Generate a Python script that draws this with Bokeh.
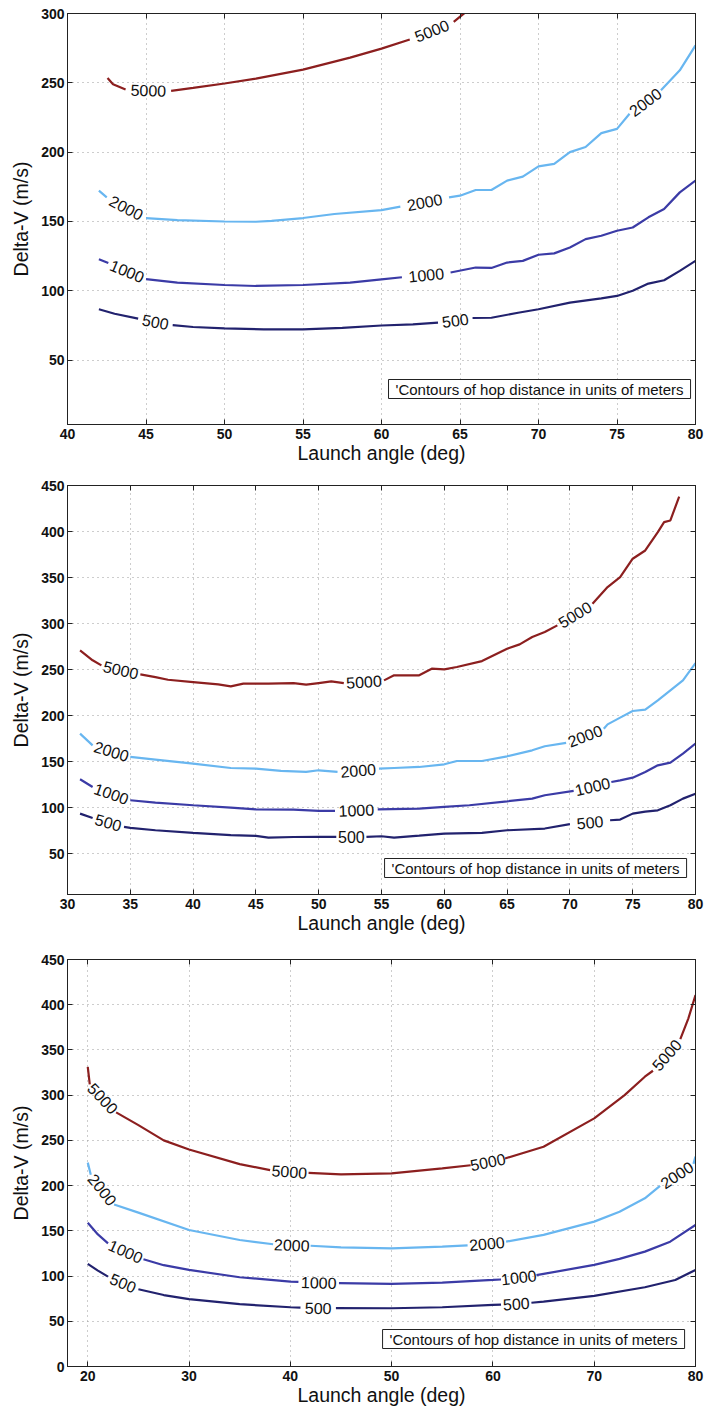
import math
from bokeh.plotting import figure
from bokeh.layouts import column
from bokeh.models import FixedTicker, LinearAxis, Label, Range1d, ColumnDataSource
from bokeh.core.properties import value
from bokeh.embed import file_html
from bokeh.resources import INLINE

nan = float("nan")

LEVELS = [500, 1000, 2000, 5000]
LEVEL_COLORS = ["#22226e", "#3b3ba6", "#68b6f0", "#8c1f1f"]

X_LABEL = "Launch angle (deg)"
Y_LABEL = "Delta-V (m/s)"
NOTE = "'Contours of hop distance in units of meters"

# ---------------- Panel 1 ----------------
P1_X_TICKS = [40, 45, 50, 55, 60, 65, 70, 75, 80]
P1_Y_TICKS = [50, 100, 150, 200, 250, 300]

P1_X_500 = [42.0, 43.0, 44.5, nan, 46.7, 48.0, 50.0, 52.5, 55.0, 57.5, 60.0, 62.0, 63.6, nan,
            65.8, 67.0, 68.7, 70.0, 72.0, 74.0, 75.0, 76.0, 77.0, 78.0, 79.0, 80.0]
P1_DV_500 = [86.7, 83.5, 80.0, nan, 75.3, 73.9, 72.9, 72.2, 72.2, 73.3, 75.0, 75.8, 77.0, nan,
             80.4, 80.6, 84.2, 86.7, 91.5, 94.6, 96.3, 100.0, 105.2, 107.6, 114.4, 121.6]

P1_X_1000 = [42.0, 42.6, nan, 45.0, 47.0, 50.0, 52.0, 55.0, 58.0, 60.0, 61.3, nan, 64.4, 66.0, 67.0,
             68.0, 69.0, 70.0, 71.0, 72.0, 73.0, 74.0, 75.0, 76.0, 77.0, 78.0, 79.0, 80.0]
P1_DV_1000 = [122.8, 120.0, nan, 108.5, 105.9, 104.2, 103.5, 104.2, 105.9, 108.3, 109.8, nan, 113.2,
              116.8, 116.5, 120.4, 121.6, 126.0, 127.0, 131.2, 137.3, 139.7, 143.3, 145.7, 153.0,
              159.0, 171.0, 179.5]

P1_X_2000 = [42.0, 42.5, nan, 45.0, 47.0, 50.0, 52.0, 53.0, 55.0, 57.0, 60.0, 61.2, nan, 64.3, 65.0,
             66.0, 67.0, 68.0, 69.0, 70.0, 71.0, 72.0, 73.0, 74.0, 75.0, 75.8, nan, 77.8, 79.0, 80.0]
P1_DV_2000 = [172.2, 167.4, nan, 152.5, 151.0, 150.0, 149.8, 150.5, 152.5, 155.4, 158.2, 160.7, nan,
              167.4, 168.6, 172.7, 172.7, 179.5, 182.4, 189.8, 191.5, 200.0, 203.7, 213.7, 216.8,
              227.7, nan, 244.6, 259.0, 277.0]

P1_X_5000 = [42.55, 42.9, 43.7, nan, 46.6, 48.0, 50.0, 52.0, 55.0, 58.0, 60.0, 61.8, nan, 64.6, 65.3]
P1_DV_5000 = [253.5, 249.0, 245.2, nan, 244.2, 246.3, 249.5, 253.0, 259.5, 268.2, 274.7, 281.2, nan,
              294.0, 300.5]

# ---------------- Panel 2 ----------------
P2_X_TICKS = [30, 35, 40, 45, 50, 55, 60, 65, 70, 75, 80]
P2_Y_TICKS = [50, 100, 150, 200, 250, 300, 350, 400, 450]

P2_X_500 = [31.0, 32.0, nan, 34.5, 35.0, 37.0, 40.0, 43.0, 45.0, 46.0, 48.0, 50.0, 51.4, nan, 53.8,
            55.0, 56.0, 58.0, 60.0, 63.0, 65.0, 68.0, 70.0, nan, 73.2, 74.0, 75.0, 76.0, 77.0, 78.0,
            79.0, 80.0]
P2_DV_500 = [93.4, 88.7, nan, 79.0, 77.9, 75.3, 72.4, 70.0, 69.2, 67.4, 68.0, 68.1, 68.1, nan, 68.1,
             68.8, 67.4, 69.5, 71.7, 72.4, 75.3, 77.2, 81.9, nan, 86.2, 86.9, 93.4, 95.5, 97.0,
             102.5, 109.7, 115.0]

P2_X_1000 = [31.0, 32.0, nan, 35.0, 37.0, 40.0, 43.0, 45.0, 48.0, 50.0, 51.3, nan, 54.7, 58.0, 60.0,
             62.0, 65.0, 67.0, 68.0, 70.3, nan, 73.3, 74.0, 75.0, 76.0, 77.0, 78.0, 79.0, 80.0]
P2_DV_1000 = [130.7, 122.4, nan, 107.9, 105.4, 102.5, 99.9, 98.1, 97.8, 96.3, 96.3, nan, 98.1, 98.9,
              100.7, 102.5, 106.8, 109.7, 113.4, 118.1, nan, 127.8, 129.6, 132.5, 138.7, 145.9,
              148.8, 158.6, 169.5]

P2_X_2000 = [31.0, 32.0, nan, 35.0, 37.0, 40.0, 43.0, 45.0, 47.0, 49.0, 50.0, 51.5, nan, 54.8, 56.0,
             58.0, 60.0, 61.0, 63.0, 65.0, 67.0, 68.0, 69.7, nan, 72.7, 73.0, 74.0, 75.0, 76.0, 77.0,
             78.0, 79.0, 80.0]
P2_DV_2000 = [180.3, 167.6, nan, 155.0, 152.1, 147.7, 143.0, 142.3, 139.8, 138.7, 140.5, 138.7, nan,
              142.3, 143.0, 144.1, 147.0, 150.6, 150.6, 155.7, 162.2, 166.6, 170.2, nan, 185.7,
              190.4, 197.7, 204.9, 206.4, 216.5, 227.4, 238.2, 257.0]

P2_X_5000 = [31.0, 32.0, 32.7, nan, 35.8, 37.0, 38.0, 40.0, 42.0, 43.0, 44.0, 46.0, 48.0, 49.0, 50.0,
             51.0, 52.0, nan, 55.2, 56.0, 58.0, 59.0, 60.0, 61.0, 63.0, 65.0, 66.0, 67.0, 68.0, 69.0,
             nan, 71.8, 73.0, 74.0, 75.0, 76.0, 77.0, 77.5, 78.0, 78.7]
P2_DV_5000 = [270.8, 260.0, 254.5, nan, 244.7, 241.8, 238.9, 236.4, 233.9, 231.7, 234.6, 234.6,
              235.3, 233.5, 235.3, 237.1, 235.3, nan, 238.2, 243.7, 243.7, 250.9, 250.2, 252.7,
              259.2, 272.6, 277.3, 285.3, 290.7, 298.0, nan, 321.5, 339.6, 350.5, 370.4, 379.4,
              399.3, 410.2, 412.0, 438.0]

# ---------------- Panel 3 ----------------
P3_X_TICKS = [20, 30, 40, 50, 60, 70, 80]
P3_Y_TICKS = [0, 50, 100, 150, 200, 250, 300, 350, 400, 450]

P3_X_500 = [20.0, 21.0, 22.0, nan, 25.0, 27.5, 30.0, 35.0, 40.0, 41.0, nan, 44.5, 50.0, 55.0, 60.0,
            60.8, nan, 63.8, 65.0, 70.0, 75.0, 78.0, 80.0]
P3_DV_500 = [113.4, 106.0, 99.4, nan, 85.4, 79.0, 74.4, 68.9, 65.5, 65.0, nan, 64.5, 64.4, 65.5,
             68.1, 68.5, nan, 70.5, 71.8, 78.0, 87.6, 95.7, 106.8]

P3_X_1000 = [20.0, 21.0, 22.0, nan, 25.5, 27.5, 30.0, 35.0, 40.0, 40.8, nan, 44.8, 50.0, 55.0, 60.0,
             60.8, nan, 64.3, 65.0, 70.0, 72.5, 75.0, 77.5, 80.0]
P3_DV_1000 = [159.0, 146.0, 136.2, nan, 118.6, 112.0, 106.8, 98.7, 93.9, 93.5, nan, 92.2, 91.3,
              92.8, 95.7, 96.2, nan, 101.0, 102.4, 112.3, 119.0, 127.0, 138.0, 156.5]

P3_X_2000 = [20.0, 20.3, nan, 22.6, 25.0, 30.0, 35.0, 38.3, nan, 42.0, 45.0, 50.0, 55.0, 57.5, nan,
             61.3, 65.0, 70.0, 72.5, 75.0, 76.5, nan, 79.8, 80.0]
P3_DV_2000 = [225.4, 212.0, nan, 179.1, 170.1, 150.9, 139.9, 135.2, nan, 133.5, 131.8, 130.7, 132.6,
              134.0, nan, 138.0, 145.5, 160.2, 171.0, 186.0, 199.7, nan, 224.0, 232.0]

P3_X_5000 = [20.0, 20.2, nan, 22.8, 25.0, 27.5, 30.0, 35.0, 38.0, nan, 41.8, 45.0, 50.0, 55.0, 57.8,
             nan, 61.2, 65.0, 70.0, 73.0, 75.0, 75.8, nan, 78.5, 79.3, 80.0]
P3_DV_5000 = [331.4, 312.0, nan, 281.0, 266.9, 250.0, 240.0, 223.8, 217.2, nan, 214.0, 212.4, 213.6,
              219.1, 222.5, nan, 230.0, 243.0, 274.3, 300.1, 320.4, 327.0, nan, 362.0, 385.0, 410.7]

FONT = "Liberation Sans"


def make_panel(x_rng, y_rng, x_ticks, y_ticks, xs, ys, borders, size, note_inset):
    left, right, top, bottom = borders
    width, height = size
    p = figure(width=width, height=height,
               x_range=Range1d(*x_rng), y_range=Range1d(*y_rng),
               output_backend="svg", toolbar_location=None,
               min_border_left=left, min_border_right=right,
               min_border_top=top, min_border_bottom=bottom)
    p.background_fill_color = "white"
    p.border_fill_color = "white"
    p.outline_line_color = "#222222"
    p.outline_line_width = 1

    fw = width - left - right
    fh = height - top - bottom
    sx = fw / (x_rng[1] - x_rng[0])
    sy = fh / (y_rng[1] - y_rng[0])

    for ax, ticks in ((p.xaxis, x_ticks), (p.yaxis, y_ticks)):
        ax.ticker = FixedTicker(ticks=ticks)
        ax.major_tick_in = 5
        ax.major_tick_out = 0
        ax.minor_tick_in = 0
        ax.minor_tick_out = 0
        ax.axis_line_color = "#222222"
        ax.major_tick_line_color = "#222222"
        ax.major_label_text_font = FONT
        ax.major_label_text_font_size = "14px"
        ax.major_label_text_font_style = "bold"
        ax.major_label_text_color = "#111111"
        ax.axis_label_text_font = FONT
        ax.axis_label_text_font_size = "19.5px"
        ax.axis_label_text_font_style = "normal"
        ax.axis_label_text_color = "#111111"
    p.xaxis.axis_label = X_LABEL
    p.yaxis.axis_label = Y_LABEL
    p.xaxis.major_label_standoff = 4
    p.xaxis.axis_label_standoff = 0
    p.yaxis.major_label_standoff = 3
    p.yaxis.axis_label_standoff = 6

    for loc, ticks in (("above", x_ticks), ("right", y_ticks)):
        ax = LinearAxis(ticker=FixedTicker(ticks=ticks),
                        major_tick_in=5, major_tick_out=0,
                        minor_tick_in=0, minor_tick_out=0,
                        major_label_text_font_size="0px",
                        major_label_standoff=0,
                        major_label_overrides={t: "" for t in ticks},
                        axis_line_color="#222222",
                        major_tick_line_color="#222222")
        p.add_layout(ax, loc)

    for g, ticks in ((p.xgrid, x_ticks), (p.ygrid, y_ticks)):
        g.ticker = FixedTicker(ticks=ticks)
        g.grid_line_color = "#9a9a9a"
        g.grid_line_dash = "1 4"
        g.grid_line_width = 1

    lx, ly, lt, la = [], [], [], []
    for lev, col, x, y in zip(LEVELS, LEVEL_COLORS, xs, ys):
        p.line(x, y, line_color=col, line_width=2.2)
        for i, v in enumerate(x):
            if isinstance(v, float) and math.isnan(v):
                x1, y1 = x[i - 1], y[i - 1]
                x2, y2 = x[i + 1], y[i + 1]
                lx.append((x1 + x2) / 2)
                ly.append((y1 + y2) / 2)
                lt.append(str(lev))
                la.append(math.atan2((y2 - y1) * sy, (x2 - x1) * sx))
    src = ColumnDataSource(dict(x=lx, y=ly, text=lt, angle=la))
    p.text(x="x", y="y", text="text", angle="angle", source=src,
           text_align="center", text_baseline="middle",
           text_font=value(FONT), text_font_size=value("16px"),
           text_color="#111111")

    rx, by = note_inset
    note = Label(x=x_rng[1] - rx / sx, y=y_rng[0] + by / sy,
                 text=NOTE, text_font=FONT, text_font_size="15px",
                 text_color="#111111",
                 text_align="right", text_baseline="bottom",
                 border_line_color="#222222", border_line_width=1,
                 background_fill_color="white", padding=(7, 1))
    p.add_layout(note)
    return p


p1 = make_panel((40, 80), (3.6, 300), P1_X_TICKS, P1_Y_TICKS,
                [P1_X_500, P1_X_1000, P1_X_2000, P1_X_5000],
                [P1_DV_500, P1_DV_1000, P1_DV_2000, P1_DV_5000],
                (65, 9, 13, 46), (708, 470), (5, 26))
p2 = make_panel((30, 80), (5.5, 450), P2_X_TICKS, P2_Y_TICKS,
                [P2_X_500, P2_X_1000, P2_X_2000, P2_X_5000],
                [P2_DV_500, P2_DV_1000, P2_DV_2000, P2_DV_5000],
                (67, 7, 15, 46), (708, 470), (9, 17))
p3 = make_panel((18, 80), (0, 450), P3_X_TICKS, P3_Y_TICKS,
                [P3_X_500, P3_X_1000, P3_X_2000, P3_X_5000],
                [P3_DV_500, P3_DV_1000, P3_DV_2000, P3_DV_5000],
                (62, 13, 19, 46), (708, 472), (11, 18))

layout = column(p1, p2, p3, spacing=0)
open("out.html", "w").write(file_html(layout, INLINE))
